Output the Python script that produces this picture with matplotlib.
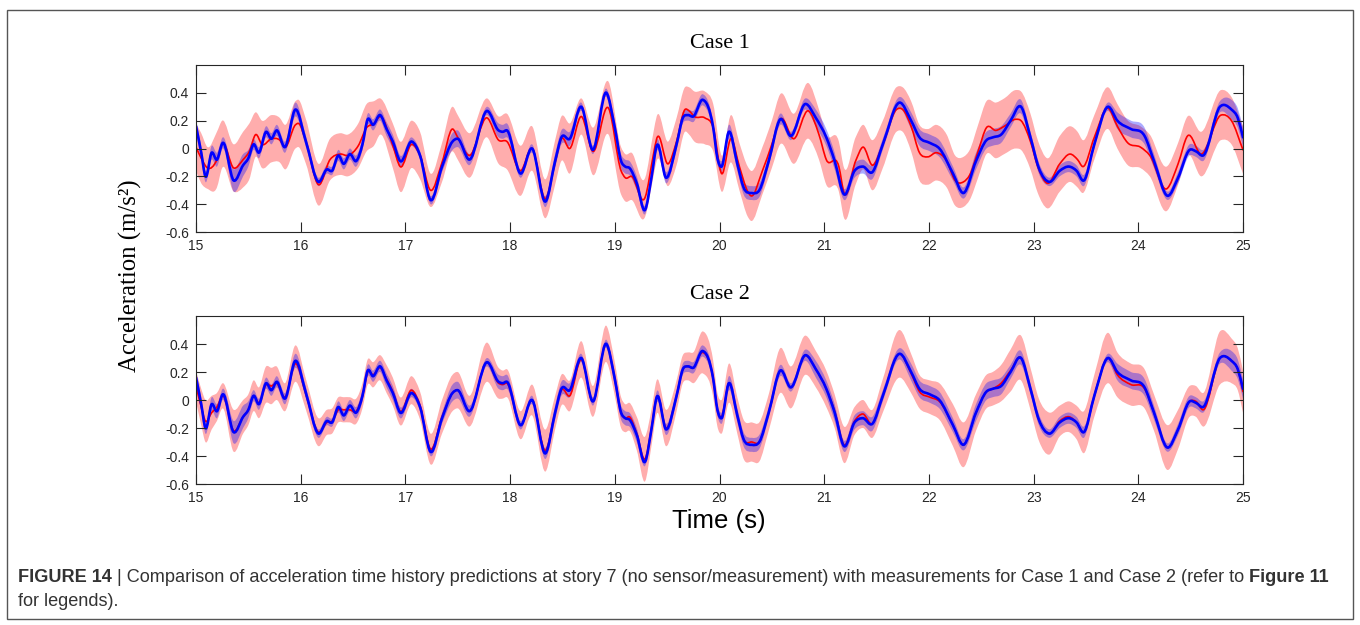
import numpy as np
import matplotlib
matplotlib.use("Agg")
import matplotlib.pyplot as plt
from matplotlib import font_manager
from matplotlib.patches import Rectangle, PathPatch
from matplotlib.path import Path

# measured response (blue line + band), same in both panels
blue_t = [
    15.00, 15.05, 15.09, 15.15, 15.20, 15.255, 15.36, 15.45, 15.50, 15.55,
    15.60, 15.67, 15.72, 15.77, 15.85, 15.95, 16.05, 16.17, 16.25, 16.30,
    16.36, 16.41, 16.47, 16.53, 16.59, 16.64, 16.69, 16.76, 16.82, 16.88,
    16.95, 17.06, 17.14, 17.24, 17.35, 17.45, 17.50, 17.61, 17.78, 17.89,
    17.93, 17.97, 18.10, 18.21, 18.34, 18.43, 18.49, 18.57, 18.68, 18.79,
    18.92, 19.00, 19.06, 19.10, 19.14, 19.21, 19.29, 19.35, 19.40, 19.49,
    19.59, 19.65, 19.70, 19.75, 19.84, 19.94, 19.98, 20.02, 20.09, 20.17,
    20.23, 20.31, 20.38, 20.47, 20.58, 20.68, 20.82, 20.92, 21.02, 21.10,
    21.19, 21.29, 21.37, 21.46, 21.56, 21.72, 21.83, 21.91, 22.01, 22.10,
    22.23, 22.33, 22.45, 22.55, 22.61, 22.69, 22.78, 22.88, 22.97, 23.05,
    23.15, 23.25, 23.34, 23.41, 23.48, 23.58, 23.71, 23.80, 23.93, 24.06,
    24.15, 24.28, 24.38, 24.49, 24.55, 24.62, 24.78, 24.89, 24.95, 25.00,
]
blue_v = [
    0.16, -0.03, -0.20, -0.03, -0.08, 0.04, -0.23, -0.12, -0.07, 0.03,
    -0.03, 0.12, 0.07, 0.13, 0.01, 0.28, 0.05, -0.24, -0.15, -0.16,
    -0.05, -0.11, -0.04, -0.09, 0.03, 0.21, 0.17, 0.24, 0.14, 0.05,
    -0.09, 0.05, -0.05, -0.37, -0.13, 0.05, 0.07, -0.08, 0.27, 0.13,
    0.12, 0.13, -0.18, 0.00, -0.38, -0.09, 0.08, 0.07, 0.30, -0.01,
    0.40, 0.15, -0.09, -0.13, -0.14, -0.25, -0.44, -0.21, 0.02, -0.21,
    0.03, 0.22, 0.24, 0.23, 0.35, 0.15, -0.07, -0.13, 0.12, -0.11,
    -0.28, -0.32, -0.30, -0.09, 0.21, 0.09, 0.32, 0.22, 0.08, -0.09,
    -0.33, -0.16, -0.13, -0.17, 0.03, 0.33, 0.20, 0.08, 0.04, 0.00,
    -0.18, -0.32, -0.09, 0.06, 0.08, 0.10, 0.20, 0.30, 0.08, -0.14,
    -0.24, -0.16, -0.13, -0.16, -0.23, 0.03, 0.30, 0.20, 0.14, 0.09,
    -0.09, -0.34, -0.21, -0.01, -0.02, -0.05, 0.30, 0.28, 0.22, 0.08,
]
blue_hw = [
    0.05, 0.05, 0.04, 0.05, 0.05, 0.04, 0.08, 0.08, 0.06, 0.04,
    0.04, 0.04, 0.04, 0.04, 0.04, 0.05, 0.04, 0.03, 0.03, 0.03,
    0.04, 0.04, 0.04, 0.04, 0.04, 0.04, 0.04, 0.04, 0.05, 0.05,
    0.04, 0.03, 0.03, 0.03, 0.04, 0.06, 0.06, 0.04, 0.03, 0.05,
    0.05, 0.05, 0.03, 0.03, 0.04, 0.05, 0.05, 0.05, 0.03, 0.03,
    0.03, 0.05, 0.05, 0.05, 0.05, 0.05, 0.03, 0.04, 0.04, 0.04,
    0.04, 0.04, 0.04, 0.04, 0.04, 0.04, 0.04, 0.04, 0.05, 0.05,
    0.05, 0.05, 0.05, 0.04, 0.04, 0.03, 0.04, 0.06, 0.06, 0.06,
    0.04, 0.05, 0.05, 0.05, 0.04, 0.04, 0.06, 0.06, 0.06, 0.06,
    0.05, 0.04, 0.06, 0.06, 0.06, 0.06, 0.05, 0.05, 0.04, 0.04,
    0.03, 0.04, 0.04, 0.04, 0.04, 0.03, 0.03, 0.06, 0.06, 0.06,
    0.05, 0.03, 0.04, 0.04, 0.04, 0.04, 0.04, 0.07, 0.07, 0.07,
]

# Case 1 prediction (red line + band)
red1_t = [
    15.00, 15.05, 15.11, 15.20, 15.25, 15.36, 15.45, 15.51, 15.57, 15.63,
    15.72, 15.80, 15.85, 15.95, 15.98, 16.05, 16.17, 16.28, 16.38, 16.45,
    16.55, 16.63, 16.70, 16.76, 16.88, 16.95, 17.06, 17.14, 17.24, 17.35,
    17.45, 17.50, 17.61, 17.78, 17.89, 17.97, 18.10, 18.21, 18.34, 18.43,
    18.49, 18.57, 18.68, 18.79, 18.94, 19.06, 19.10, 19.16, 19.29, 19.37,
    19.40, 19.51, 19.59, 19.67, 19.71, 19.76, 19.86, 19.94, 20.02, 20.11,
    20.19, 20.27, 20.30, 20.41, 20.50, 20.58, 20.71, 20.85, 20.95, 21.02,
    21.14, 21.19, 21.30, 21.37, 21.46, 21.56, 21.69, 21.75, 21.83, 21.91,
    21.99, 22.07, 22.17, 22.25, 22.33, 22.39, 22.47, 22.55, 22.64, 22.72,
    22.83, 22.88, 22.97, 23.04, 23.13, 23.25, 23.35, 23.42, 23.47, 23.58,
    23.71, 23.80, 23.90, 24.02, 24.11, 24.27, 24.38, 24.47, 24.60, 24.79,
    24.89, 25.00,
]
red1_v = [
    0.01, -0.07, -0.14, -0.08, 0.03, -0.14, -0.08, -0.02, 0.10, 0.03,
    0.07, 0.06, 0.01, 0.17, 0.18, 0.05, -0.26, -0.08, -0.04, -0.05,
    0.02, 0.15, 0.18, 0.23, 0.02, -0.13, 0.03, -0.05, -0.30, -0.10,
    0.14, 0.08, -0.05, 0.22, 0.06, 0.05, -0.16, 0.00, -0.36, -0.10,
    0.07, 0.00, 0.23, -0.02, 0.29, -0.16, -0.21, -0.20, -0.35, -0.04,
    0.07, -0.11, 0.05, 0.28, 0.27, 0.23, 0.22, 0.15, -0.18, 0.07,
    -0.13, -0.31, -0.34, -0.16, 0.03, 0.21, 0.07, 0.27, 0.10, -0.08,
    -0.13, -0.32, -0.09, 0.01, -0.12, 0.03, 0.28, 0.28, 0.16, -0.03,
    -0.06, -0.03, -0.09, -0.23, -0.24, -0.19, -0.02, 0.15, 0.13, 0.16,
    0.21, 0.20, 0.05, -0.13, -0.25, -0.11, -0.04, -0.08, -0.13, 0.08,
    0.29, 0.16, 0.04, 0.01, -0.05, -0.29, -0.11, 0.09, -0.04, 0.24,
    0.20, -0.01,
]
red1_hw = [
    0.17, 0.18, 0.15, 0.20, 0.17, 0.17, 0.20, 0.20, 0.16, 0.17,
    0.17, 0.16, 0.16, 0.17, 0.17, 0.16, 0.15, 0.15, 0.15, 0.15,
    0.16, 0.17, 0.16, 0.13, 0.16, 0.18, 0.17, 0.17, 0.12, 0.14,
    0.16, 0.16, 0.16, 0.14, 0.17, 0.20, 0.18, 0.16, 0.14, 0.16,
    0.16, 0.18, 0.13, 0.17, 0.19, 0.17, 0.17, 0.17, 0.14, 0.16,
    0.16, 0.16, 0.17, 0.16, 0.17, 0.18, 0.19, 0.17, 0.13, 0.17,
    0.17, 0.18, 0.18, 0.17, 0.17, 0.18, 0.18, 0.20, 0.18, 0.18,
    0.18, 0.18, 0.17, 0.16, 0.18, 0.17, 0.16, 0.16, 0.18, 0.20,
    0.20, 0.20, 0.19, 0.18, 0.18, 0.18, 0.19, 0.19, 0.20, 0.20,
    0.21, 0.21, 0.20, 0.19, 0.18, 0.20, 0.20, 0.20, 0.19, 0.16,
    0.15, 0.16, 0.16, 0.15, 0.15, 0.16, 0.15, 0.14, 0.16, 0.18,
    0.17, 0.17,
]

# Case 2 prediction, sampled at the same times as the measurement
red2_v = [
    0.10, -0.05, -0.15, -0.09, -0.05, 0.03, -0.22, -0.12, -0.07, 0.03,
    -0.02, 0.11, 0.10, 0.12, 0.02, 0.26, 0.04, -0.23, -0.16, -0.15,
    -0.07, -0.07, -0.07, -0.08, 0.03, 0.20, 0.18, 0.23, 0.15, 0.06,
    -0.08, 0.07, -0.04, -0.35, -0.12, 0.05, 0.07, -0.08, 0.27, 0.12,
    0.11, 0.12, -0.18, 0.00, -0.36, -0.09, 0.07, 0.03, 0.29, -0.01,
    0.40, 0.15, -0.09, -0.13, -0.12, -0.24, -0.42, -0.20, 0.02, -0.20,
    0.03, 0.22, 0.24, 0.23, 0.34, 0.15, -0.07, -0.12, 0.12, -0.11,
    -0.28, -0.30, -0.30, -0.09, 0.21, 0.09, 0.32, 0.22, 0.08, -0.08,
    -0.32, -0.15, -0.10, -0.17, 0.03, 0.33, 0.19, 0.06, 0.02, -0.01,
    -0.18, -0.32, -0.09, 0.06, 0.08, 0.12, 0.21, 0.30, 0.08, -0.14,
    -0.24, -0.15, -0.12, -0.16, -0.23, 0.03, 0.30, 0.18, 0.11, 0.08,
    -0.09, -0.34, -0.21, -0.01, -0.01, -0.07, 0.30, 0.28, 0.22, 0.06,
]
red2_hw = [
    0.11, 0.13, 0.15, 0.12, 0.10, 0.09, 0.15, 0.12, 0.11, 0.11,
    0.11, 0.13, 0.13, 0.12, 0.10, 0.13, 0.11, 0.10, 0.09, 0.09,
    0.09, 0.09, 0.09, 0.09, 0.09, 0.09, 0.09, 0.09, 0.10, 0.10,
    0.10, 0.10, 0.10, 0.11, 0.12, 0.13, 0.13, 0.11, 0.14, 0.11,
    0.10, 0.10, 0.10, 0.11, 0.15, 0.12, 0.11, 0.11, 0.13, 0.11,
    0.13, 0.12, 0.11, 0.10, 0.10, 0.12, 0.16, 0.13, 0.12, 0.13,
    0.11, 0.10, 0.10, 0.11, 0.15, 0.13, 0.12, 0.12, 0.14, 0.13,
    0.14, 0.14, 0.14, 0.13, 0.16, 0.15, 0.14, 0.13, 0.13, 0.12,
    0.13, 0.10, 0.10, 0.10, 0.12, 0.17, 0.14, 0.12, 0.12, 0.13,
    0.15, 0.16, 0.13, 0.12, 0.12, 0.13, 0.15, 0.16, 0.15, 0.15,
    0.15, 0.11, 0.11, 0.12, 0.15, 0.15, 0.18, 0.16, 0.15, 0.14,
    0.13, 0.16, 0.14, 0.11, 0.11, 0.12, 0.19, 0.16, 0.15, 0.15,
]

x_ticks = [15, 16, 17, 18, 19, 20, 21, 22, 23, 24, 25]
y_ticks = [-0.6, -0.4, -0.2, 0, 0.2, 0.4]
y_tick_labels = ["-0.6", "-0.4", "-0.2", "0", "0.2", "0.4"]

W, H = 1360, 625
AX_COLOR = "#262626"

fig = plt.figure(figsize=(W / 100, H / 100), dpi=100)


def add_px_axes(left, top, right, bottom):
    return fig.add_axes([left / W, 1 - bottom / H, (right - left) / W, (bottom - top) / H])


def smooth_segments(x, y):
    # cubic Bezier pieces through the read points (Hermite slopes), so the
    # trace is drawn as a curve and not as a polyline
    x, y = np.asarray(x, float), np.asarray(y, float)
    m = np.gradient(y, x)
    verts, codes = [(x[0], y[0])], [Path.MOVETO]
    for i in range(len(x) - 1):
        dx = (x[i + 1] - x[i]) / 3
        verts += [(x[i] + dx, y[i] + m[i] * dx),
                  (x[i + 1] - dx, y[i + 1] - m[i + 1] * dx),
                  (x[i + 1], y[i + 1])]
        codes += [Path.CURVE4] * 3
    return verts, codes


def smooth_line(ax, x, y, **kw):
    verts, codes = smooth_segments(x, y)
    ax.add_patch(PathPatch(Path(verts, codes), fill=False, capstyle="round",
                           joinstyle="round", **kw))


def smooth_band(ax, x, lo, hi, **kw):
    v1, c1 = smooth_segments(x, hi)
    v2, c2 = smooth_segments(x[::-1], lo[::-1])
    c2[0] = Path.LINETO
    verts = v1 + v2 + [v1[0]]
    codes = c1 + c2 + [Path.CLOSEPOLY]
    ax.add_patch(PathPatch(Path(verts, codes), lw=0, **kw))


def draw_panel(ax, title, rt, rv, rh, bt, bv, bh):
    rt, rv, rh = np.array(rt), np.array(rv), np.array(rh)
    bt, bv, bh = np.array(bt), np.array(bv), np.array(bh)
    smooth_band(ax, rt, rv - rh, rv + rh, fc=(1, 0, 0), alpha=0.32)
    smooth_band(ax, bt, bv - bh, bv + bh, fc=(0, 0, 1), alpha=0.33)
    smooth_line(ax, rt, rv, ec="red", lw=1.2)
    smooth_line(ax, bt, bv, ec="blue", lw=1.9)

    ax.set_xlim(15, 25)
    ax.set_ylim(-0.6, 0.6)
    ax.set_xticks(x_ticks)
    ax.set_xticklabels([str(v) for v in x_ticks])
    ax.set_yticks(y_ticks)
    ax.set_yticklabels(y_tick_labels)
    ax.tick_params(direction="in", top=True, right=True, length=7, width=0.8,
                   labelsize=10, colors=AX_COLOR, pad=5)
    for s in ax.spines.values():
        s.set_color(AX_COLOR)
        s.set_linewidth(0.8)
    for lab in ax.get_xticklabels() + ax.get_yticklabels():
        lab.set_family("Liberation Sans")
    ax.set_title(title, family="Liberation Serif", fontsize=16, pad=12, color="black")


ax1 = add_px_axes(196, 65, 1243, 232)
ax2 = add_px_axes(196, 316, 1243, 484)
draw_panel(ax1, "Case 1", red1_t, red1_v, red1_hw, blue_t, blue_v, blue_hw)
draw_panel(ax2, "Case 2", blue_t, red2_v, red2_hw, blue_t, blue_v, blue_hw)

fig.text(130 / W, 1 - 276 / H, "Acceleration (m/s²)", rotation=90, ha="center", va="center",
         family="Liberation Serif", fontsize=17.8)
fig.text(719 / W, 1 - 521 / H, "Time (s)", ha="center", va="center",
         family="Liberation Sans", fontsize=18.5)

# outer frame of the figure panel
fig.patches.append(Rectangle((7 / W, 1 - 619 / H), (1353 - 7) / W, (619 - 10) / H,
                             transform=fig.transFigure, fill=False, ec="#555555", lw=1))

# caption, fitted to the line width of the reference
names = {f.name for f in font_manager.fontManager.ttflist}
cap_font = "Liberation Sans Narrow" if "Liberation Sans Narrow" in names else "Liberation Sans"
line1 = [("FIGURE 14", "bold"), (" | Comparison of acceleration time history predictions at story 7 "
         "(no sensor/measurement) with measurements for Case 1 and Case 2 (refer to ", "normal"),
         ("Figure 11", "bold")]

fig.canvas.draw()
renderer = fig.canvas.get_renderer()


def measure(size):
    total = 0
    for txt, wt in line1:
        t = fig.text(0, 0, txt, family=cap_font, weight=wt, fontsize=size)
        total += t.get_window_extent(renderer).width
        t.remove()
    return total


size = 12 * (1333 - 18) / measure(12)
x = 18
for txt, wt in line1:
    t = fig.text(x / W, 1 - 577 / H, txt, family=cap_font, weight=wt, fontsize=size,
                 va="center", color="#333333")
    x += t.get_window_extent(renderer).width
fig.text(18 / W, 1 - 602 / H, "for legends).", family=cap_font, fontsize=size,
         va="center", color="#333333")

fig.savefig("out.png", dpi=100)
